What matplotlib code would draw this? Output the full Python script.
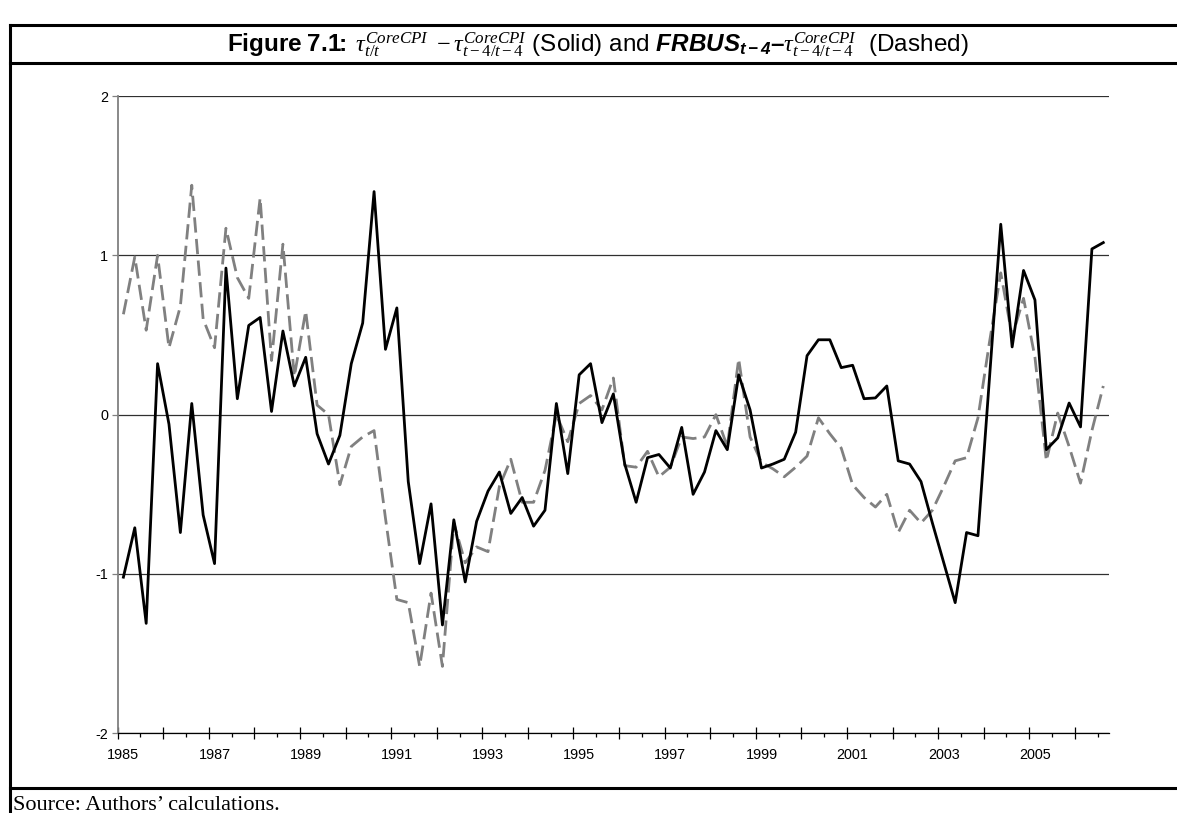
import matplotlib
matplotlib.use('Agg')
import matplotlib.pyplot as plt
from matplotlib.lines import Line2D
import numpy as np

plt.rcParams['font.family'] = ['Liberation Sans', 'DejaVu Sans']
plt.rcParams['axes.unicode_minus'] = False
plt.rcParams['mathtext.fontset'] = 'custom'
plt.rcParams['mathtext.rm'] = 'Liberation Serif'
plt.rcParams['mathtext.it'] = 'Liberation Serif:italic'
plt.rcParams['mathtext.bf'] = 'Liberation Sans:bold'
plt.rcParams['mathtext.bfit'] = 'Liberation Sans:italic:bold'

# ---- data: quarterly, 1985Q1 .. 2006Q3 ----
year_labels = ['1985', '1987', '1989', '1991', '1993', '1995',
               '1997', '1999', '2001', '2003', '2005']
y_ticks = [-2, -1, 0, 1, 2]
y_tick_labels = ['-2', '-1', '0', '1', '2']

solid = [-1.02, -0.71, -1.31, 0.32, -0.06, -0.74, 0.07, -0.63, -0.935, 0.92,
         0.10, 0.56, 0.61, 0.02, 0.525, 0.18, 0.36, -0.12, -0.31, -0.13,
         0.32, 0.575, 1.40, 0.41, 0.67, -0.42, -0.935, -0.56, -1.32, -0.66,
         -1.05, -0.67, -0.48, -0.36, -0.62, -0.52, -0.70, -0.60, 0.07, -0.37,
         0.25, 0.32, -0.05, 0.13, -0.31, -0.55, -0.27, -0.25, -0.335, -0.08,
         -0.50, -0.36, -0.10, -0.22, 0.25, 0.03, -0.335, -0.31, -0.28, -0.11,
         0.37, 0.47, 0.47, 0.295, 0.31, 0.10, 0.105, 0.18, -0.29, -0.31,
         -0.42, -0.68, -0.93, -1.18, -0.74, -0.76, 0.22, 1.195, 0.425, 0.905,
         0.72, -0.22, -0.146, 0.073, -0.077, 1.04, 1.08]

dashed = [0.63, 0.99, 0.53, 1.00, 0.42, 0.68, 1.44, 0.60, 0.42, 1.17,
          0.86, 0.73, 1.36, 0.34, 1.07, 0.24, 0.65, 0.06, 0.00, -0.44,
          -0.20, -0.14, -0.10, -0.65, -1.16, -1.18, -1.58, -1.12, -1.58, -0.68,
          -0.93, -0.83, -0.86, -0.45, -0.28, -0.55, -0.55, -0.35, 0.00, -0.17,
          0.07, 0.12, 0.03, 0.23, -0.32, -0.33, -0.23, -0.39, -0.33, -0.14,
          -0.15, -0.14, 0.00, -0.20, 0.35, -0.14, -0.30, -0.34, -0.39, -0.33,
          -0.26, -0.02, -0.12, -0.21, -0.44, -0.52, -0.58, -0.50, -0.74, -0.60,
          -0.68, -0.60, -0.45, -0.29, -0.27, -0.02, 0.45, 0.89, 0.49, 0.73,
          0.36, -0.29, 0.01, -0.20, -0.43, -0.10, 0.18]

W_PX, H_PX = 1177, 813
fig = plt.figure(figsize=(W_PX / 100, H_PX / 100), dpi=100)

def fx(px):
    return px / W_PX

def fy(py):
    return 1 - py / H_PX

# plot area
left, right, top, bottom = 117.7, 1109, 96, 733.3
ax = fig.add_axes([fx(left), fy(bottom), fx(right) - fx(left), fy(top) - fy(bottom)])

n = len(solid)
x = np.arange(n) + 0.5
ax.plot(x, dashed, color='#808080', lw=2.0, ls=(0, (5.5, 2.3)),
        dash_capstyle='butt', zorder=3)
ax.plot(x, solid, color='black', lw=2.0, zorder=4)

ax.set_xlim(0, n)
ax.set_ylim(-2, 2)
ax.set_yticks(y_ticks)
ax.set_yticklabels(y_tick_labels)
ax.yaxis.grid(True, color='#303030', lw=0.9)
ax.set_axisbelow(True)

for s in ['top', 'right']:
    ax.spines[s].set_visible(False)
ax.spines['left'].set_color('#808080')
ax.spines['left'].set_linewidth(1.3)
ax.spines['bottom'].set_color('black')
ax.spines['bottom'].set_linewidth(0.9)

ax.set_xticks(np.arange(0, n + 1, 4))
ax.set_xticks(np.arange(2, n, 4), minor=True)
ax.tick_params(axis='x', which='major', direction='inout', length=8, width=0.9,
               labelbottom=False)
ax.tick_params(axis='x', which='minor', direction='out', length=3, width=0.9)
ax.tick_params(axis='y', which='major', direction='out', length=4, width=0.9,
               color='#808080', labelsize=10.4, pad=3)

for k, lab in enumerate(year_labels):
    ax.annotate(lab, xy=(8 * k + 0.5, 0), xycoords=('data', 'axes fraction'),
                xytext=(0, -15), textcoords='offset pixels',
                ha='center', va='top', fontsize=10.4)

# frame lines
lw_frame = 2.2
fig.add_artist(Line2D([fx(10), fx(10)], [fy(25), fy(813)], color='black', lw=lw_frame,
                      transform=fig.transFigure))
for yy in (25, 63, 788):
    fig.add_artist(Line2D([fx(10), fx(1177)], [fy(yy), fy(yy)], color='black', lw=lw_frame,
                          transform=fig.transFigure))

title = (r"$\mathbf{Figure\ 7.1}\!\!\mathbf{:}\ \tau^{CoreCPI}_{t/t}\ -\tau^{CoreCPI}_{t-4/t-4}$"
         r" (Solid) and $\mathbfit{FRBUS}_{\mathbfit{t-4}}\mathbf{–}\tau^{CoreCPI}_{t-4/t-4}$"
         r"  (Dashed)")
fig.text(fx(598), fy(52), title, ha='center', va='baseline', fontsize=17.5)

fig.text(fx(13), fy(810), "Source: Authors\u2019 calculations.", family='Liberation Serif',
         fontsize=16, va='baseline', ha='left')

fig.savefig('out.png', dpi=100)
